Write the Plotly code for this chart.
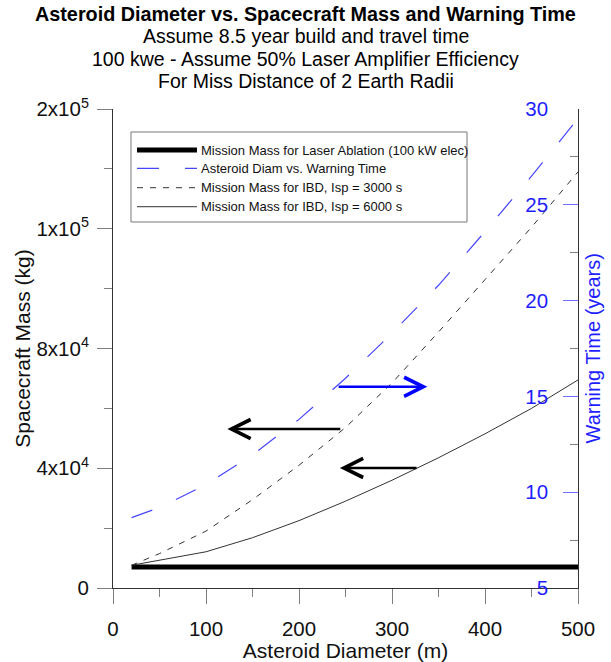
import plotly.graph_objects as go

# ---------------- data ----------------
diameter_m = [20, 50, 100, 150, 200, 250, 300, 350, 400, 450, 500]
laser_mass_kg = [7000, 7000, 7000, 7000, 7000, 7000, 7000, 7000, 7000, 7000, 7000]
warning_time_yr = [8.67, 9.2, 10.4, 11.95, 13.8, 15.95, 18.3, 20.8, 23.6, 26.5, 29.5]
ibd3000_mass_kg = [7600, 11500, 19000, 29500, 41000, 53600, 68500, 85500, 103000, 120500, 139000]
ibd6000_mass_kg = [7600, 9200, 12100, 16800, 22500, 29000, 36000, 43500, 51500, 60000, 69500]

series_names = [
    "Mission Mass for Laser Ablation (100 kW elec)",
    "Asteroid Diam vs. Warning Time",
    "Mission Mass for IBD, Isp = 3000 s",
    "Mission Mass for IBD, Isp = 6000 s",
]

mass_tickvals = [0, 40000, 80000, 120000, 160000]
mass_ticktext = ["0", "4x10<sup>4</sup>", "8x10<sup>4</sup>", "1x10<sup>5</sup>", "2x10<sup>5</sup>"]
time_tickvals = [5, 10, 15, 20, 25, 30]
diam_tickvals = [0, 100, 200, 300, 400, 500]

title_lines = [
    "<b>Asteroid Diameter vs. Spacecraft Mass and Warning Time</b>",
    "Assume 8.5 year build and travel time",
    "100 kwe - Assume 50% Laser Amplifier Efficiency",
    "For Miss Distance of 2 Earth Radii",
]

# arrows: (head_x, tail_x, level, axis, colour)
arrows = [
    (123, 246, 53100, "y", "black"),
    (244, 328, 40100, "y", "black"),
    (338, 241, 15.5, "y2", "blue"),
]

BLUE = "rgb(30,30,255)"
LINE_GRAY = "#333333"
FONT = "Arial, Liberation Sans, sans-serif"
TICK_SIZE = 20.5

styles = [
    dict(color="black", width=5),
    dict(color="rgb(70,70,255)", width=1.2, dash="22px,26px"),
    dict(color=LINE_GRAY, width=1, dash="6px,7px"),
    dict(color=LINE_GRAY, width=1),
]

fig = go.Figure()
fig.add_trace(go.Scatter(x=diameter_m, y=laser_mass_kg, mode="lines", name=series_names[0],
                         line=styles[0], yaxis="y", showlegend=False))
fig.add_trace(go.Scatter(x=diameter_m, y=warning_time_yr, mode="lines", name=series_names[1],
                         line=styles[1], yaxis="y2", showlegend=False))
fig.add_trace(go.Scatter(x=diameter_m, y=ibd3000_mass_kg, mode="lines", name=series_names[2],
                         line=styles[2], yaxis="y", showlegend=False))
fig.add_trace(go.Scatter(x=diameter_m, y=ibd6000_mass_kg, mode="lines", name=series_names[3],
                         line=styles[3], yaxis="y", showlegend=False))

annotations = []
# title lines
title_y = [1.198, 1.153, 1.105, 1.058]
title_size = [19.8, 19.5, 19.5, 19.5]
for txt, yy, fs in zip(title_lines, title_y, title_size):
    annotations.append(dict(text=txt, xref="paper", yref="paper", x=(305.5 - 113) / 465, y=yy,
                            xanchor="center", yanchor="middle", showarrow=False,
                            font=dict(size=fs, color="black", family=FONT)))

# right axis title
annotations.append(dict(text="Warning Time (years)", xref="paper", yref="paper",
                        x=(592 - 113) / 465, y=0.5, xanchor="center", yanchor="middle",
                        textangle=-90, showarrow=False,
                        font=dict(size=20, color=BLUE, family=FONT)))

# arrows
for hx, tx, lvl, ax_, col in arrows:
    annotations.append(dict(x=hx, y=lvl, ax=tx, ay=lvl, xref="x", yref=ax_, axref="x", ayref=ax_,
                            text="", showarrow=True, arrowhead=5, arrowsize=1.5, arrowwidth=2.5,
                            arrowcolor=("black" if col == "black" else "rgb(0,0,255)")))

# manual legend
shapes = []
shapes.append(dict(type="rect", xref="paper", yref="paper", x0=0.0387, x1=0.7613, y0=0.7641, y1=0.952,
                   line=dict(color="#777777", width=1), fillcolor="white", layer="above"))
row_y = [0.9144, 0.8762, 0.8357, 0.7960]
for name, st, yy in zip(series_names, styles, row_y):
    shapes.append(dict(type="line", xref="paper", yref="paper", x0=0.0516, x1=0.1806, y0=yy, y1=yy,
                       line=st, layer="above"))
    annotations.append(dict(text=name, xref="paper", yref="paper", x=0.1849, y=yy, xanchor="left",
                            yanchor="middle", showarrow=False,
                            font=dict(size=13, color="#111111", family=FONT)))

fig.update_layout(
    width=611, height=662,
    margin=dict(l=113, r=33, t=109, b=74, autoexpand=False),
    paper_bgcolor="white", plot_bgcolor="white",
    font=dict(family=FONT, color="black"),
    showlegend=False,
    xaxis=dict(range=[0, 500], tickvals=diam_tickvals, ticks="outside", ticklen=15,
               tickcolor="#808080", showline=True, linecolor=LINE_GRAY, linewidth=1,
               showgrid=False, zeroline=False, automargin=False, ticklabelstandoff=7,
               minor=dict(ticks="outside", ticklen=8, dtick=50, tick0=0, tickcolor="#808080"),
               tickfont=dict(size=TICK_SIZE, color="#111111"),
               title=dict(text="Asteroid Diameter (m)", font=dict(size=21, color="#111111"), standoff=3)),
    yaxis=dict(range=[0, 160000], tickvals=mass_tickvals, ticktext=mass_ticktext, ticks="outside",
               ticklen=15, tickcolor="#808080", showline=True, linecolor=LINE_GRAY, linewidth=1,
               showgrid=False, zeroline=False, automargin=False, ticklabelstandoff=4,
               minor=dict(ticks="outside", ticklen=8, dtick=20000, tick0=0, tickcolor="#808080"),
               tickfont=dict(size=TICK_SIZE, color="#111111"),
               title=dict(text="Spacecraft Mass (kg)", font=dict(size=21, color="#111111"), standoff=0)),
    yaxis2=dict(overlaying="y", side="right", anchor="x", range=[5, 30], tickvals=time_tickvals,
                ticks="inside", ticklen=15, tickcolor="rgb(110,110,255)", ticklabelposition="inside",
                ticklabeloverflow="allow", automargin=False, ticklabelstandoff=16,
                showline=True, linecolor=LINE_GRAY, linewidth=1, showgrid=False, zeroline=False,
                minor=dict(ticks="inside", ticklen=8, dtick=2.5, tick0=5, tickcolor="#808080"),
                tickfont=dict(size=TICK_SIZE, color=BLUE)),
    annotations=annotations,
    shapes=shapes,
)

fig.write_html("out.html", config={"displayModeBar": False},
               post_script="document.body.style.margin='0px';document.body.style.overflow='hidden';")
